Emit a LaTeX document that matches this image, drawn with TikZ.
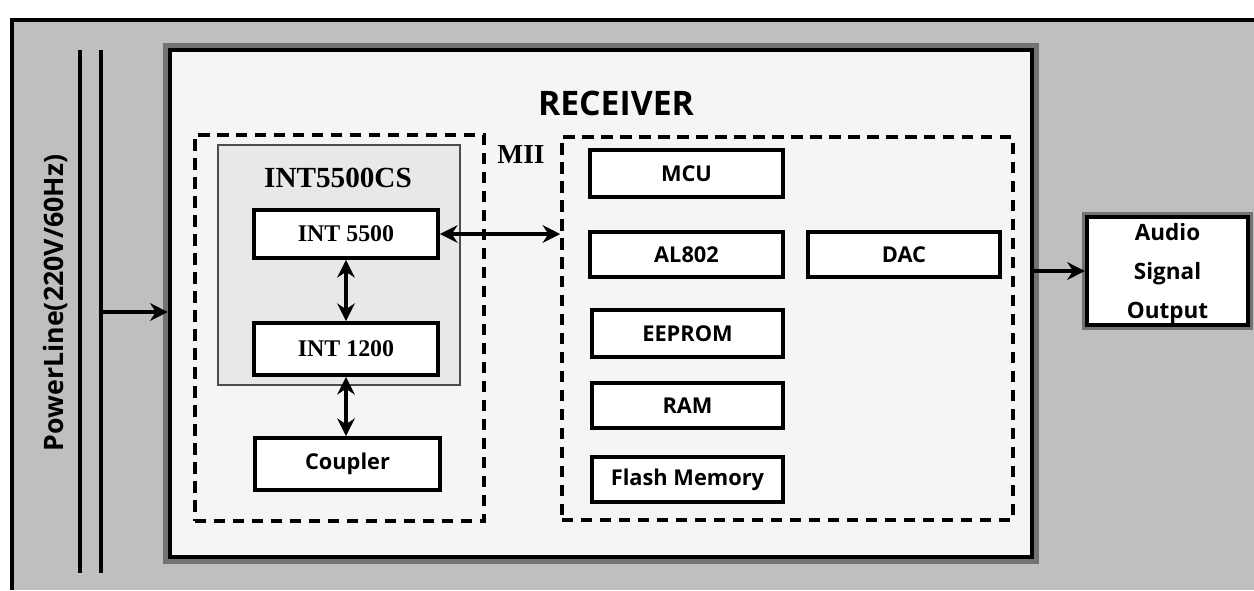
\documentclass[tikz,border=0pt]{standalone}
\usepackage{fontspec}
\setmainfont{Open Sans}
\newfontfamily\serfont{Liberation Serif}
\usetikzlibrary{arrows.meta}
\tikzset{
  blk/.style={draw=black, line width=1.1pt, fill=white, inner sep=0pt,
    font=\bfseries\fontsize{6.2}{7}\selectfont},
  dbox/.style={draw=black, line width=1pt, dash pattern=on 3.2pt off 2.2pt, inner sep=0pt},
  conn/.style={line width=0.9pt, {Stealth[length=5pt,width=5pt]}-{Stealth[length=5pt,width=5pt]}},
  oneway/.style={line width=0.9pt, -{Stealth[length=5pt,width=5pt]}},
  pline/.style={line width=1.2pt},
}
\begin{document}
\begin{tikzpicture}[x=0.01cm,y=-0.01cm]
\useasboundingbox (0,0) rectangle (1254,590);
% outer background frame
\fill[black!25] (12,20) rectangle (1254,590);
\draw[line width=1pt] (12,590) -- (12,20) -- (1254,20);
% power lines
\draw[pline] (80,50) -- (80,573);
\draw[pline] (101,50) -- (101,573);
\node[rotate=90, font=\bfseries\fontsize{7.6}{8}\selectfont] (pltext) at (55,303) {PowerLine(220V/60Hz)};
% receiver shadow and box
\draw[black!55, line width=4pt] (170,50) rectangle (1032,557);
\node[draw=black, line width=1.3pt, fill=black!4, minimum width=862*0.01cm, minimum height=507*0.01cm, inner sep=0pt] (rec) at (601,303.5) {};
\node[font=\bfseries\fontsize{9.6}{10}\selectfont] (rectitle) at (616,103) {RECEIVER};
% left dashed group
\node[dbox, minimum width=289*0.01cm, minimum height=386*0.01cm] (left) at (339.5,328) {};
% INT5500CS box
\node[draw=black!70, line width=0.5pt, fill=black!9, minimum width=242*0.01cm, minimum height=240*0.01cm, inner sep=0pt] (cs) at (339,265) {};
\node[font=\serfont\bfseries\fontsize{8.3}{9}\selectfont] (cstitle) at (338,178) {INT5500CS};
\node[blk, font=\serfont\bfseries\fontsize{6.8}{7}\selectfont, minimum width=184*0.01cm, minimum height=48*0.01cm] (i55) at (346,234) {INT 5500};
\node[blk, font=\serfont\bfseries\fontsize{6.8}{7}\selectfont, minimum width=184*0.01cm, minimum height=52*0.01cm] (i12) at (346,349) {INT 1200};
\node[blk, minimum width=185*0.01cm, minimum height=52*0.01cm] (coup) at (347.5,464) {Coupler};
% MII label
\node[font=\serfont\bfseries\fontsize{7.8}{8}\selectfont] (mii) at (521,155) {MII};
% right dashed group
\node[dbox, minimum width=451*0.01cm, minimum height=383*0.01cm] (mem) at (787.5,328.5) {};
\node[blk, minimum width=193*0.01cm, minimum height=47*0.01cm] (mcu) at (686.5,173.5) {MCU};
\node[blk, minimum width=193*0.01cm, minimum height=45*0.01cm] (al) at (686.5,254.5) {AL802};
\node[blk, minimum width=192*0.01cm, minimum height=45*0.01cm] (dac) at (904,254.5) {DAC};
\node[blk, minimum width=191*0.01cm, minimum height=47*0.01cm] (eep) at (687.5,333.5) {EEPROM};
\node[blk, minimum width=191*0.01cm, minimum height=45*0.01cm] (ram) at (687.5,405.5) {RAM};
\node[blk, minimum width=191*0.01cm, minimum height=45*0.01cm] (flash) at (687.5,479.5) {Flash Memory};
% audio output box
\draw[black!55, line width=3pt] (1087,217) rectangle (1248,325);
\node[draw=black, line width=1.2pt, fill=white, minimum width=161*0.01cm, minimum height=108*0.01cm, inner sep=0pt,
  align=center, font=\bfseries\fontsize{6.4}{11}\selectfont, text depth=0pt] (audio) at (1167.5,271) {Audio\\Signal\\Output};
% connectors
\coordinate (plin) at (101,312);
\draw[oneway] (plin) -- (rec.west |- plin);
\draw[conn] (i55.east) -- (i55.east -| mem.west);
\draw[conn] (i55.south) -- (i12.north);
\draw[conn] (i12.south) -- (i12.south |- coup.north);
\draw[oneway] (rec.east |- audio.west) -- (audio.west);
\end{tikzpicture}
\end{document}
